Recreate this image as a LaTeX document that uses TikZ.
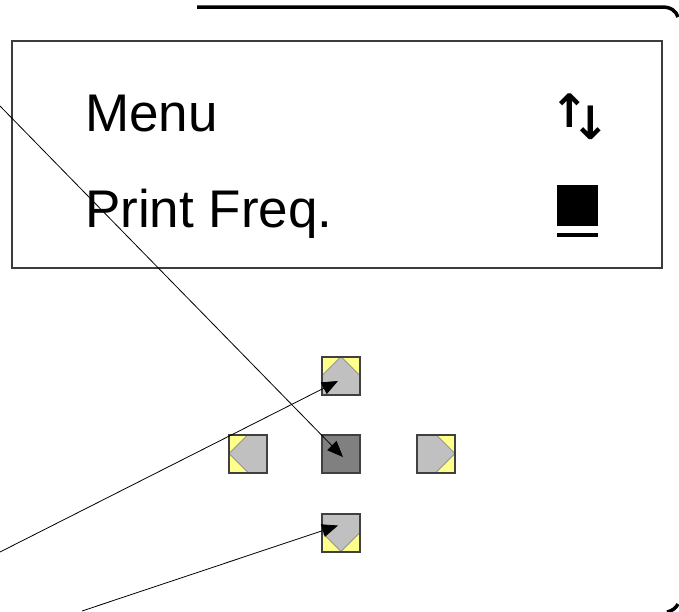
\documentclass[tikz,border=0pt]{standalone}
\usepackage{fontspec}
\setmainfont{Liberation Sans}
\newfontfamily\symfont{DejaVu Sans Bold}
\usetikzlibrary{arrows.meta,positioning}

\definecolor{keygray}{RGB}{192,192,192}
\definecolor{keydark}{RGB}{128,128,128}
\definecolor{keyyellow}{RGB}{255,255,140}
\definecolor{keyedge}{RGB}{64,64,64}
\definecolor{lcdedge}{RGB}{60,60,60}

\tikzset{
  key/.style={draw=keyedge, line width=2pt, minimum size=38pt, inner sep=0pt, fill=keyyellow},
  keyface/.style={fill=keygray, draw=keyedge!70, line width=.6pt},
  keyup/.style={key, path picture={\filldraw[keyface] ([shift={(-19,0)}]path picture bounding box.center)
      -- ++(19,-19) -- ++(19,19) -- ++(0,19) -- ++(-38,0) -- cycle;}},
  keydown/.style={key, path picture={\filldraw[keyface] ([shift={(-19,0)}]path picture bounding box.center)
      -- ++(19,19) -- ++(19,-19) -- ++(0,-19) -- ++(-38,0) -- cycle;}},
  keyleft/.style={key, path picture={\filldraw[keyface] ([shift={(0,-19)}]path picture bounding box.center)
      -- ++(-19,19) -- ++(19,19) -- ++(19,0) -- ++(0,-38) -- cycle;}},
  keyright/.style={key, path picture={\filldraw[keyface] ([shift={(0,-19)}]path picture bounding box.center)
      -- ++(19,19) -- ++(-19,19) -- ++(-19,0) -- ++(0,-38) -- cycle;}},
  keyok/.style={key, fill=keydark},
  lcdtext/.style={anchor=base west, inner sep=0pt, font=\fontsize{53}{60}\selectfont},
  lcdsym/.style={inner sep=0pt, font=\symfont\fontsize{46}{48}\selectfont},
  wire/.style={line width=.8pt, -{Triangle[length=16pt,width=13pt]}},
  housing/.style={line width=3.5pt}
}

\begin{document}
\begin{tikzpicture}[x=1pt, y=-1pt]

      \useasboundingbox (0,0) rectangle (679,611);

      % housing edge, only its top and the two right corners show
      \draw[housing] (197,7) -- (662,7) .. controls (671,7) and (676,11) .. (678,17);
      \draw[housing] (678,604) .. controls (676,608) and (672,611) .. (667,612);

      % display
      \draw[lcdedge, line width=2pt] (12,41) rectangle (662,268);
      \node[lcdtext] (menu) at (85,131) {Menu};
      \node[lcdtext] (freq) at (85,227) {Print Freq.};
      \node[lcdsym] (updn) at (580,117) {↑\kern-18pt\raisebox{-12pt}{↓}};
      % cursor block
      \fill (557,185) rectangle (598,226);
      \fill (557,233) rectangle (598,237);

      % keys
      \node[keyok] (kc) at (341,453.5) {};
      \node[keyup, above=38pt of kc] (ku) {};
      \node[keydown, below=39pt of kc] (kd) {};
      \node[keyleft, left=53pt of kc] (kl) {};
      \node[keyright, right=55pt of kc] (kr) {};

      % pointers
      \coordinate (pc) at (0,106);
      \coordinate (pu) at (0,552);
      \coordinate (pd) at (82,611);
      \draw[wire] (pc) -- ([shift={(2,3.5)}]kc.center);
      \draw[wire] (pu) -- ([shift={(-3,5.5)}]ku.center);
      \draw[wire] (pd) -- ([shift={(-3,-7)}]kd.center);

\end{tikzpicture}
\end{document}
